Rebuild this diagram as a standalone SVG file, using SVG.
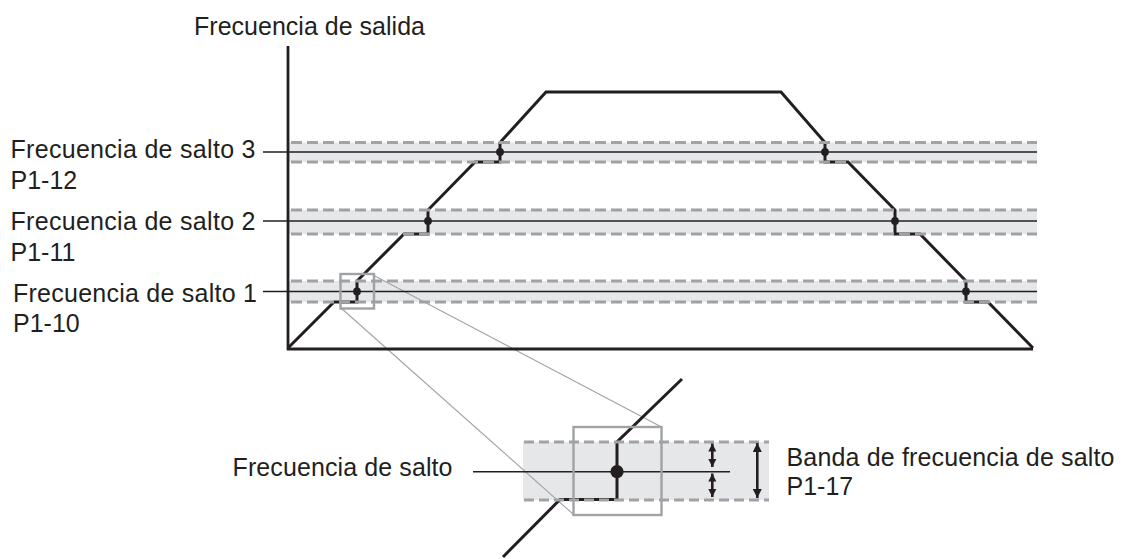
<svg xmlns="http://www.w3.org/2000/svg" width="1126" height="559" viewBox="0 0 1126 559">
<defs>
<style>
text{font-family:"Liberation Sans",Arial,sans-serif;font-size:25px;fill:#231f20}
.band{fill:#e6e7e8}
.dash{stroke:#a0a2a5;stroke-width:3;stroke-dasharray:11 5;fill:none}
.dashb{stroke:#a0a2a5;stroke-width:3;stroke-dasharray:10 5;fill:none}
.center{stroke:#231f20;stroke-width:1.4;fill:none}
.ramp{stroke:#231f20;stroke-width:3;fill:none;stroke-linejoin:miter}
.axis{stroke:#231f20;stroke-width:2.8;fill:none}
.mag{stroke:#a0a2a5;stroke-width:2.4;fill:none}
.zl{stroke:#a0a2a5;stroke-width:1.1;fill:none}
.dot{fill:#231f20}
.arr{stroke:#231f20;stroke-width:2.6;fill:none}
</style>
<marker id="hs" viewBox="0 0 10 10" refX="10" refY="5" markerUnits="userSpaceOnUse" markerWidth="8" markerHeight="10" orient="auto-start-reverse"><path d="M0,0 L10,5 L0,10 z" fill="#231f20"/></marker>
<marker id="hb" viewBox="0 0 10 10" refX="10" refY="5" markerUnits="userSpaceOnUse" markerWidth="12" markerHeight="9" orient="auto-start-reverse"><path d="M0,0 L10,5 L0,10 z" fill="#231f20"/></marker>
</defs>
<rect width="1126" height="559" fill="#ffffff"/>

<g id="bands">
<rect class="band" x="289" y="142.5" width="748" height="19.5"/>
<rect class="band" x="289" y="210" width="748" height="24"/>
<rect class="band" x="289" y="281" width="748" height="21"/>
<rect class="band" x="523" y="442" width="246" height="58"/>
</g>

<g id="connectors">
<line class="zl" x1="374" y1="275.5" x2="661.5" y2="427"/>
<line class="zl" x1="341" y1="308" x2="573.5" y2="514.5"/>
<path class="ramp" d="M288,348 L334,302 L357,302 L357,281 L404,234 L428,234 L428,210 L475,162 L500,162 L500,142.5 L546,92 L781,92 L825,142.5 L825,162 L848,162 L895,210 L895,234 L920,234 L966,281 L966,302 L988,302 L1033,348"/>
<path class="ramp" d="M503,557 L560,499.5 L617,499.5 L617,442 L682,379"/>
<line class="center" x1="263" y1="152" x2="1037" y2="152"/>
<line class="center" x1="263" y1="221" x2="1037" y2="221"/>
<line class="center" x1="263" y1="291.5" x2="1037" y2="291.5"/>
<line class="center" x1="473" y1="471.7" x2="730" y2="471.7"/>
</g>

<g id="dashes">
<line class="dash" x1="291" y1="142.5" x2="1037" y2="142.5"/>
<line class="dash" x1="291" y1="162" x2="1037" y2="162"/>
<line class="dash" x1="291" y1="210" x2="1037" y2="210"/>
<line class="dash" x1="291" y1="234" x2="1037" y2="234"/>
<line class="dash" x1="291" y1="281" x2="1037" y2="281"/>
<line class="dash" x1="291" y1="302" x2="1037" y2="302"/>
<line class="dashb" x1="524" y1="442" x2="769" y2="442"/>
<line class="dashb" x1="524" y1="500" x2="769" y2="500"/>
</g>

<g id="axes">
<line class="axis" x1="288" y1="46" x2="288" y2="350"/>
<line class="axis" x1="287" y1="349" x2="1033" y2="349"/>
</g>

<g id="dots">
<circle class="dot" cx="357" cy="291.5" r="3.9"/>
<circle class="dot" cx="428" cy="221" r="3.9"/>
<circle class="dot" cx="500" cy="152" r="3.9"/>
<circle class="dot" cx="825" cy="152" r="3.9"/>
<circle class="dot" cx="895" cy="221" r="3.9"/>
<circle class="dot" cx="966" cy="291.5" r="3.9"/>
<circle class="dot" cx="617" cy="471.7" r="6.6"/>
</g>

<g id="magnifier-small"><rect class="mag" x="340.5" y="274" width="33.5" height="34.5"/></g>
<g id="magnifier-big"><rect class="mag" x="573.5" y="427" width="88" height="88"/></g>

<g id="band-arrows">
<line class="arr" x1="712.3" y1="443.5" x2="712.3" y2="467" marker-start="url(#hs)" marker-end="url(#hs)"/>
<line class="arr" x1="712.3" y1="473.5" x2="712.3" y2="497" marker-start="url(#hs)" marker-end="url(#hs)"/>
<line class="arr" x1="757.3" y1="443" x2="757.3" y2="498" marker-start="url(#hb)" marker-end="url(#hb)"/>
</g>

<g id="label-output"><text x="194" y="35" textLength="231">Frecuencia de salida</text></g>
<g id="label-jump3"><text x="10.5" y="157.5" textLength="245">Frecuencia de salto 3</text><text x="10.5" y="188.5">P1-12</text></g>
<g id="label-jump2"><text x="10.5" y="230" textLength="245">Frecuencia de salto 2</text><text x="10.5" y="260.5">P1-11</text></g>
<g id="label-jump1"><text x="13" y="301.5" textLength="244">Frecuencia de salto 1</text><text x="13" y="331.5">P1-10</text></g>
<g id="label-jump"><text x="232.5" y="476" textLength="220">Frecuencia de salto</text></g>
<g id="label-band"><text x="786.5" y="466" textLength="328">Banda de frecuencia de salto</text><text x="786.5" y="495">P1-17</text></g>
</svg>
